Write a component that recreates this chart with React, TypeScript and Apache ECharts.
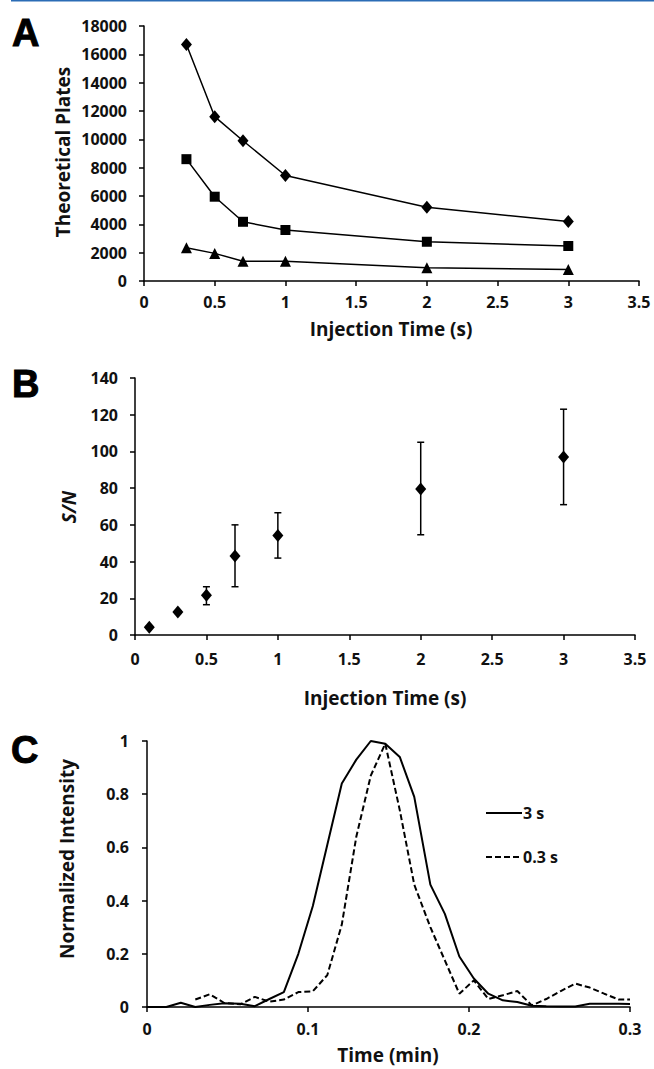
import React, { useEffect, useRef } from 'react';
import * as echarts from 'echarts';

// ---------- Panel A data ----------
const injectionTimesA = [0.3, 0.5, 0.7, 1, 2, 3];
const platesDiamond = [16700, 11600, 9900, 7450, 5200, 4200];
const platesSquare = [8600, 5950, 4180, 3600, 2770, 2470];
const platesTriangle = [2350, 1950, 1390, 1390, 940, 820];

// ---------- Panel B data ----------
const injectionTimesB = [0.1, 0.3, 0.5, 0.7, 1, 2, 3];
const snMean = [4.2, 12.5, 21.6, 43, 54.2, 79.6, 96.9];
const snLow = [3.6, 11.8, 16.5, 26.3, 41.9, 54.6, 71];
const snHigh = [4.8, 13.2, 26.3, 60, 66.6, 105, 123];

// ---------- Panel C data ----------
const timeSolid = [0, 0.012, 0.021, 0.030, 0.039, 0.048, 0.058, 0.067, 0.076, 0.085, 0.094, 0.103, 0.112, 0.121, 0.130, 0.139, 0.148, 0.157, 0.166, 0.176, 0.185, 0.194, 0.203, 0.212, 0.221, 0.230, 0.239, 0.248, 0.257, 0.266, 0.275, 0.284, 0.293, 0.300];
const intensitySolid = [0, 0, 0.016, 0, 0.008, 0.014, 0.012, 0.003, 0.03, 0.056, 0.20, 0.38, 0.61, 0.84, 0.93, 1.0, 0.99, 0.94, 0.79, 0.46, 0.35, 0.19, 0.107, 0.05, 0.025, 0.019, 0.005, 0.003, 0.002, 0.002, 0.012, 0.012, 0.012, 0.011];
const timeDashed = [0.030, 0.039, 0.048, 0.058, 0.067, 0.076, 0.085, 0.094, 0.103, 0.112, 0.121, 0.130, 0.139, 0.148, 0.157, 0.166, 0.176, 0.185, 0.194, 0.203, 0.212, 0.221, 0.230, 0.239, 0.248, 0.257, 0.266, 0.275, 0.284, 0.293, 0.300];
const intensityDashed = [0.028, 0.048, 0.015, 0.01, 0.038, 0.02, 0.028, 0.056, 0.059, 0.12, 0.31, 0.64, 0.87, 0.99, 0.74, 0.46, 0.30, 0.175, 0.05, 0.10, 0.03, 0.044, 0.06, 0.006, 0.03, 0.06, 0.088, 0.073, 0.05, 0.028, 0.028];

const legendLabels = ['3 s', '0.3 s'];

const FONT = '"Open Sans", "Liberation Sans", sans-serif';
const INK = '#111';

const fmt = (v: number) => String(+v.toFixed(2));

function axisBase(margin: number, extra: any) {
  return {
    axisLine: { show: true, onZero: false, lineStyle: { color: '#000', width: 1.5 } },
    axisTick: { show: true, inside: false, length: 5, lineStyle: { color: '#000', width: 1.5 } },
    splitLine: { show: false },
    axisLabel: { color: INK, fontFamily: FONT, fontWeight: 'bold', fontSize: 16, margin, formatter: fmt },
    ...extra,
  };
}

function titleText(text: string, x: number, y: number, vertical: boolean, italic = false) {
  return {
    type: 'text',
    x,
    y,
    rotation: vertical ? Math.PI / 2 : 0,
    style: {
      text,
      fill: INK,
      font: `${italic ? 'italic ' : ''}bold 19px ${FONT}`,
      textAlign: 'center',
      textVerticalAlign: 'middle',
    },
  };
}

function panelLetter(text: string, x: number, y: number) {
  return {
    type: 'text',
    x,
    y,
    style: {
      text,
      fill: '#000',
      font: `bold 38px "Liberation Sans", Arial, sans-serif`,
      textAlign: 'left',
      textVerticalAlign: 'middle',
      stroke: '#000',
      lineWidth: 1,
    },
  };
}

export default function App() {
  const ref = useRef<HTMLDivElement>(null);

  useEffect(() => {
    const chart = echarts.init(ref.current!, null, { renderer: 'svg' });

    const lineStyleA = { color: '#000', width: 1.5 };

    const option: any = {
      animation: false,
      backgroundColor: '#fff',
      grid: [
        { left: 144, top: 26, width: 495, height: 255 },
        { left: 135, top: 378, width: 500, height: 257 },
        { left: 147, top: 741, width: 483, height: 266 },
      ],
      xAxis: [
        axisBase(13, { type: 'value', gridIndex: 0, min: 0, max: 3.5, interval: 0.5 }),
        axisBase(16, { type: 'value', gridIndex: 1, min: 0, max: 3.5, interval: 0.5 }),
        axisBase(14, { type: 'value', gridIndex: 2, min: 0, max: 0.3, interval: 0.1 }),
      ],
      yAxis: [
        axisBase(17, { type: 'value', gridIndex: 0, min: 0, max: 18000, interval: 2000 }),
        axisBase(17, { type: 'value', gridIndex: 1, min: 0, max: 140, interval: 20 }),
        axisBase(18, { type: 'value', gridIndex: 2, min: 0, max: 1, interval: 0.2 }),
      ],
      series: [
        {
          type: 'line', xAxisIndex: 0, yAxisIndex: 0,
          data: injectionTimesA.map((t, i) => [t, platesDiamond[i]]),
          symbol: 'diamond', symbolSize: [11, 13],
          itemStyle: { color: '#000' }, lineStyle: lineStyleA,
        },
        {
          type: 'line', xAxisIndex: 0, yAxisIndex: 0,
          data: injectionTimesA.map((t, i) => [t, platesSquare[i]]),
          symbol: 'rect', symbolSize: 10,
          itemStyle: { color: '#000' }, lineStyle: lineStyleA,
        },
        {
          type: 'line', xAxisIndex: 0, yAxisIndex: 0,
          data: injectionTimesA.map((t, i) => [t, platesTriangle[i]]),
          symbol: 'triangle', symbolSize: 11,
          itemStyle: { color: '#000' }, lineStyle: lineStyleA,
        },
        {
          type: 'custom', xAxisIndex: 1, yAxisIndex: 1,
          data: injectionTimesB.map((t, i) => [t, snLow[i], snHigh[i]]),
          encode: { x: 0, y: [1, 2] },
          renderItem: (params: any, api: any) => {
            const x = api.value(0);
            const pLo = api.coord([x, api.value(1)]);
            const pHi = api.coord([x, api.value(2)]);
            const w = 3.5;
            const st = { stroke: '#000', lineWidth: 1.5 };
            return {
              type: 'group',
              children: [
                { type: 'line', shape: { x1: pLo[0], y1: pLo[1], x2: pHi[0], y2: pHi[1] }, style: st },
                { type: 'line', shape: { x1: pLo[0] - w, y1: pLo[1], x2: pLo[0] + w, y2: pLo[1] }, style: st },
                { type: 'line', shape: { x1: pHi[0] - w, y1: pHi[1], x2: pHi[0] + w, y2: pHi[1] }, style: st },
              ],
            };
          },
          z: 1,
        },
        {
          type: 'scatter', xAxisIndex: 1, yAxisIndex: 1,
          data: injectionTimesB.map((t, i) => [t, snMean[i]]),
          symbol: 'diamond', symbolSize: [11, 13],
          itemStyle: { color: '#000', opacity: 1 }, z: 3,
        },
        {
          type: 'line', xAxisIndex: 2, yAxisIndex: 2,
          data: timeSolid.map((t, i) => [t, intensitySolid[i]]),
          showSymbol: false, symbol: 'none',
          lineStyle: { color: '#000', width: 2 },
        },
        {
          type: 'line', xAxisIndex: 2, yAxisIndex: 2,
          data: timeDashed.map((t, i) => [t, intensityDashed[i]]),
          showSymbol: false, symbol: 'none',
          lineStyle: { color: '#000', width: 2, type: [6, 3] },
        },
      ],
      graphic: [
        { type: 'rect', shape: { x: 11, y: 0, width: 643, height: 1.5 }, style: { fill: '#2b6cb5' } },
        panelLetter('A', 12, 33),
        panelLetter('B', 12, 384),
        panelLetter('C', 11, 750),
        titleText('Theoretical Plates', 63, 152, true),
        titleText('Injection Time (s)', 391, 329, false),
        titleText('S/N', 69, 507, true, true),
        titleText('Injection Time (s)', 385, 698, false),
        titleText('Normalized Intensity', 67, 859, true),
        titleText('Time (min)', 388, 1055, false),
        { type: 'line', shape: { x1: 486, y1: 813, x2: 522, y2: 813 }, style: { stroke: '#000', lineWidth: 2 } },
        { type: 'line', shape: { x1: 486, y1: 857, x2: 522, y2: 857 }, style: { stroke: '#000', lineWidth: 2, lineDash: [6, 3] } },
        { type: 'text', x: 523, y: 813, style: { text: legendLabels[0], fill: INK, font: `bold 16px ${FONT}`, textAlign: 'left', textVerticalAlign: 'middle' } },
        { type: 'text', x: 523, y: 857, style: { text: legendLabels[1], fill: INK, font: `bold 16px ${FONT}`, textAlign: 'left', textVerticalAlign: 'middle' } },
      ],
    };

    chart.setOption(option);
    return () => chart.dispose();
  }, []);

  return (
    <div
      ref={ref}
      style={{ position: 'absolute', left: 0, top: 0, width: 654, height: 1069, background: '#fff' }}
    />
  );
}
